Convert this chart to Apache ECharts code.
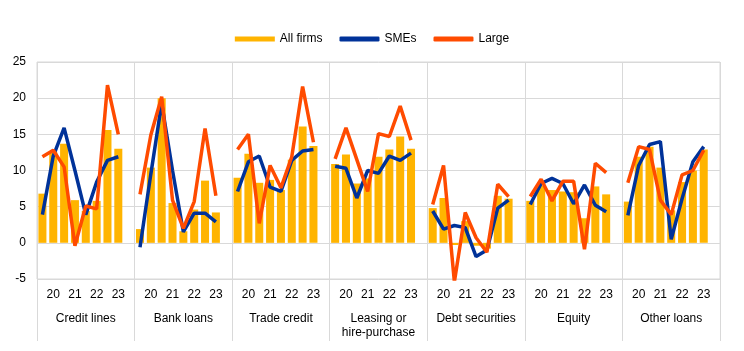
<!DOCTYPE html>
<html>
<head>
<meta charset="utf-8">
<script src="https://cdn.jsdelivr.net/npm/echarts@6/dist/echarts.min.js"></script>
<style>
  html, body { margin: 0; padding: 0; background: #fff; }
  #chart { width: 744px; height: 351px; }
</style>
</head>
<body>
<div id="chart"></div>
<script>
// instruments, each has 8 half-year observations
var groups = ['Credit lines', 'Bank loans', 'Trade credit', 'Leasing or\nhire-purchase', 'Debt securities', 'Equity', 'Other loans'];
var yearLabels = ['20', '21', '22', '23'];
var yTicks = [-5, 0, 5, 10, 15, 20, 25];

var allFirms = [
  [6.8, 12.6, 13.7, 5.9, 4.4, 5.8, 15.6, 13.0],
  [1.9, 10.4, 20.0, 5.5, 1.6, 4.6, 8.6, 4.2],
  [9.0, 12.3, 8.3, 8.7, 7.3, 11.5, 16.1, 13.4],
  [10.9, 12.2, 8.2, 8.9, 11.9, 12.9, 14.7, 13.0],
  [4.8, 6.2, -0.3, 3.0, -0.4, -0.8, 6.5, 6.1],
  [5.8, 7.9, 7.3, 7.1, 7.0, 3.4, 7.8, 6.7],
  [5.7, 11.9, 13.3, 10.4, 4.5, 8.4, 10.0, 12.9]
];
var smes = [
  [3.9, 12.0, 15.9, 10.0, 3.9, 8.4, 11.4, 11.9],
  [-0.6, 9.5, 19.3, 10.0, 1.5, 4.1, 4.1, 2.9],
  [7.1, 11.2, 12.0, 7.7, 7.1, 11.4, 12.7, 12.9],
  [10.6, 10.3, 6.2, 10.0, 9.6, 12.0, 11.4, 12.4],
  [4.4, 1.9, 2.4, 2.1, -1.9, -1.0, 4.8, 5.9],
  [5.3, 8.2, 8.9, 8.2, 5.4, 8.0, 5.2, 4.3],
  [3.8, 10.7, 13.6, 14.0, 0.5, 6.1, 11.2, 13.3]
];
var large = [
  [11.9, 12.8, 10.5, -0.4, 5.1, 4.7, 21.8, 15.0],
  [6.7, 14.9, 20.2, 5.9, 2.0, 5.7, 15.8, 6.5],
  [12.9, 15.0, 2.7, 10.7, 7.6, 11.9, 21.6, 13.9],
  [11.6, 15.9, 11.5, 7.1, 15.1, 14.7, 18.9, 14.2],
  [5.3, 10.7, -5.4, 4.2, 0.7, -1.3, 8.1, 6.4],
  [6.4, 8.8, 5.8, 8.5, 8.5, -0.9, 11.0, 9.7],
  [8.3, 13.3, 12.9, 5.9, 3.9, 9.4, 10.0, 12.8]
];

var SLOTS = 9; // 8 observations + 1 empty slot between instruments

// flatten, with a null after every group so the lines break
function flat(arr) {
  var out = [];
  arr.forEach(function (g) {
    g.forEach(function (v) { out.push(v); });
    out.push(null);
  });
  return out;
}

var categories = [];
for (var i = 0; i < groups.length * SLOTS; i++) categories.push('c' + i);

function yearLabel(idx) {
  var k = idx % SLOTS;
  if (k % 2 === 1 && k < 8) return yearLabels[(k - 1) / 2];
  return '';
}
function groupLabel(idx) {
  if (idx % SLOTS === 4) return groups[Math.floor(idx / SLOTS)];
  return '';
}
function isBoundary(idx) { return idx % SLOTS === 0; }

var grey = '#d9d9d9';
var font = 'Liberation Sans, Arial, sans-serif';

var chart = echarts.init(document.getElementById('chart'));
var option = {
  backgroundColor: '#ffffff',
  animation: false,
  textStyle: { fontFamily: font },
  legend: {
    top: 28,
    left: 'center',
    itemWidth: 40,
    itemHeight: 5,
    itemGap: 17,
    textStyle: { fontFamily: font, fontSize: 12, color: '#000' },
    data: [
      { name: 'All firms', icon: 'rect' },
      { name: 'SMEs', icon: 'roundRect' },
      { name: 'Large', icon: 'roundRect' }
    ]
  },
  grid: { left: 37, right: 24, top: 62, bottom: 72, show: true, borderColor: grey, borderWidth: 1 },
  xAxis: [{
    type: 'category',
    data: categories,
    boundaryGap: true,
    axisLine: { show: false, onZero: false },
    axisTick: { show: true, interval: isBoundary, length: 62, lineStyle: { color: grey } },
    splitLine: { show: true, interval: isBoundary, lineStyle: { color: grey } },
    axisLabel: {
      interval: 0, margin: 10, fontSize: 12, color: '#000', fontFamily: font,
      formatter: function (v, idx) { return yearLabel(idx); }
    }
  }, {
    type: 'category',
    data: categories,
    position: 'bottom',
    axisLine: { show: false, onZero: false },
    axisTick: { show: false },
    splitLine: { show: false },
    axisLabel: {
      interval: 0, margin: 33, fontSize: 12, color: '#000', fontFamily: font,
      lineHeight: 14, verticalAlign: 'top',
      formatter: function (v, idx) { return groupLabel(idx); }
    }
  }],
  yAxis: {
    type: 'value',
    min: yTicks[0],
    max: yTicks[yTicks.length - 1],
    interval: 5,
    axisLine: { show: false },
    axisTick: { show: false },
    splitLine: { lineStyle: { color: grey } },
    axisLabel: { margin: 11, fontSize: 12, color: '#000', fontFamily: font }
  },
  series: [{
    name: 'All firms',
    type: 'bar',
    data: flat(allFirms),
    barCategoryGap: '26%',
    itemStyle: { color: '#ffb400' }
  }, {
    name: 'SMEs',
    type: 'line',
    data: flat(smes),
    showSymbol: false,
    symbol: 'none',
    lineStyle: { width: 3.5, color: '#003299' },
    itemStyle: { color: '#003299' }
  }, {
    name: 'Large',
    type: 'line',
    data: flat(large),
    showSymbol: false,
    symbol: 'none',
    lineStyle: { width: 3.5, color: '#ff4b00' },
    itemStyle: { color: '#ff4b00' }
  }]
};
chart.setOption(option);
</script>
</body>
</html>
